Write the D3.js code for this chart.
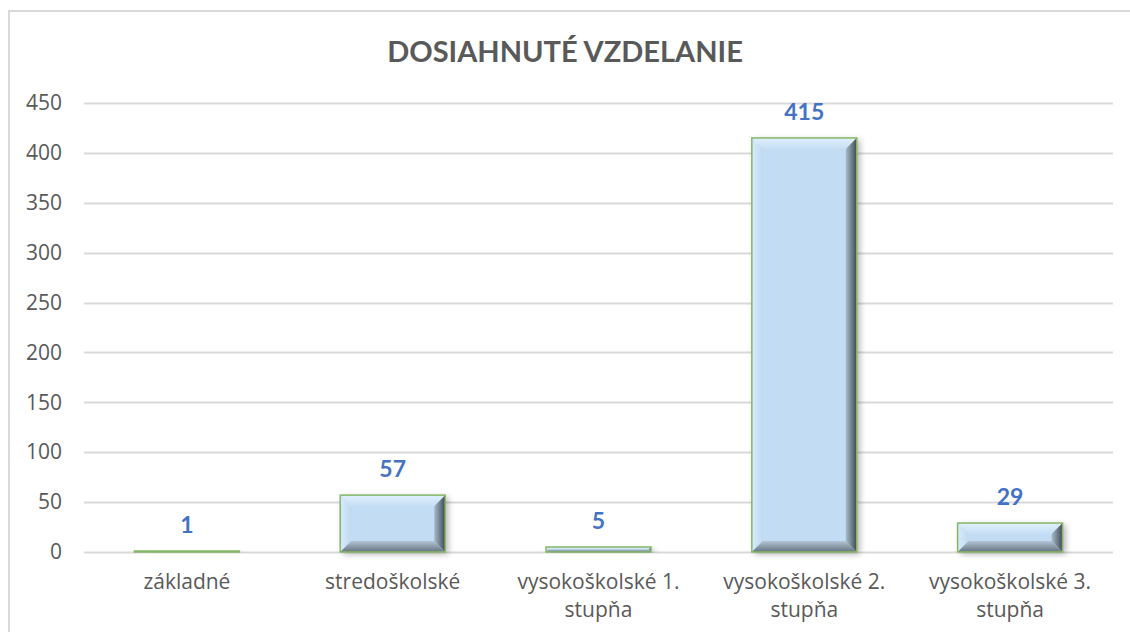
<!DOCTYPE html>
<html>
<head>
<meta charset="utf-8">
<script src="https://cdn.jsdelivr.net/npm/d3@7"></script>
<style>
  body { margin: 0; background: #fff; }
  text { font-family: "Open Sans", sans-serif; }
</style>
</head>
<body>
<div id="chart"></div>
<script>
// chart data
var categories = ["základné", "stredoškolské", "vysokoškolské 1. stupňa", "vysokoškolské 2. stupňa", "vysokoškolské 3. stupňa"];
var categoryLines = [["základné"], ["stredoškolské"], ["vysokoškolské 1.", "stupňa"], ["vysokoškolské 2.", "stupňa"], ["vysokoškolské 3.", "stupňa"]];
var values = [1, 57, 5, 415, 29];
var yTicks = [0, 50, 100, 150, 200, 250, 300, 350, 400, 450];

var width = 1130, height = 632;
var margin = {left: 84, right: 17, top: 103, bottom: 80};

var svg = d3.select("#chart").append("svg")
  .attr("width", width)
  .attr("height", height);

var defs = svg.append("defs");
var shadow = defs.append("filter").attr("id", "shadow")
  .attr("x", "-20%").attr("y", "-20%").attr("width", "140%").attr("height", "140%");
shadow.append("feDropShadow")
  .attr("dx", 3).attr("dy", 2).attr("stdDeviation", 3)
  .attr("flood-color", "#000").attr("flood-opacity", 0.3);

// bevel gradients
function grad(id, x2, y2, stops){
  var lg = defs.append("linearGradient").attr("id", id)
    .attr("x1", 0).attr("y1", 0).attr("x2", x2).attr("y2", y2);
  stops.forEach(function(s){
    lg.append("stop").attr("offset", s[0]).attr("stop-color", s[1]);
  });
}
grad("bevRight", 1, 0, [["0%", "#a8bccd"], ["100%", "#3f4a52"]]);
grad("bevBottom", 0, 1, [["0%", "#b2c5d6"], ["100%", "#66737e"]]);
grad("bevTop", 0, 1, [["0%", "#e0f0ff"], ["100%", "#c6def4"]]);
grad("bevLeft", 1, 0, [["0%", "#d8ebfc"], ["100%", "#c0d9f0"]]);

// outer frame
svg.append("rect")
  .attr("x", 9).attr("y", 11)
  .attr("width", width + 20).attr("height", height + 20)
  .attr("fill", "none").attr("stroke", "#d9d9d9").attr("stroke-width", 2);

var x = d3.scaleBand()
  .domain(categories)
  .range([margin.left, width - margin.right])
  .paddingInner(0.49).paddingOuter(0.245);

var y = d3.scaleLinear()
  .domain([0, 450])
  .range([height - margin.bottom, margin.top]);

// title
svg.append("text")
  .attr("x", 565).attr("y", 62)
  .attr("text-anchor", "middle")
  .attr("font-size", 29).attr("font-weight", "bold")
  .attr("fill", "#595959")
  .style("font-family", "Lato, sans-serif")
  .text("DOSIAHNUTÉ VZDELANIE");

// gridlines
svg.append("g").selectAll("line")
  .data(yTicks)
  .enter().append("line")
  .attr("x1", margin.left).attr("x2", width - margin.right)
  .attr("y1", function(d){ return Math.round(y(d)) + 0.5; })
  .attr("y2", function(d){ return Math.round(y(d)) + 0.5; })
  .attr("stroke", "#d9d9d9").attr("stroke-width", 2);

// y axis labels
var yAxis = d3.axisLeft(y).tickValues(yTicks).tickSize(0).tickPadding(0);
var gy = svg.append("g").attr("transform", "translate(62,0)").call(yAxis);
gy.select(".domain").remove();
gy.selectAll("text")
  .attr("font-size", 21).attr("fill", "#595959")
  .style("font-family", "'Open Sans', sans-serif");

// bars with bevel
var bars = svg.append("g").selectAll("g.bar")
  .data(values)
  .enter().append("g")
  .attr("class", "bar");

bars.each(function(v, i){
  var g = d3.select(this);
  var x0 = x(categories[i]), w = x.bandwidth();
  var y0 = y(v), y1 = y(0), h = y1 - y0;
  var b = Math.min(11, h / 2);

  g.append("rect")
    .attr("x", x0).attr("y", y0).attr("width", w).attr("height", h)
    .attr("fill", "#c2dcf4")
    .attr("filter", "url(#shadow)");

  g.append("polygon")
    .attr("points", [[x0, y0], [x0 + w, y0], [x0 + w - b, y0 + b], [x0 + b, y0 + b]].join(" "))
    .attr("fill", "url(#bevTop)");
  g.append("polygon")
    .attr("points", [[x0, y0], [x0 + b, y0 + b], [x0 + b, y1 - b], [x0, y1]].join(" "))
    .attr("fill", "url(#bevLeft)");
  g.append("polygon")
    .attr("points", [[x0 + w, y0], [x0 + w, y1], [x0 + w - b, y1 - b], [x0 + w - b, y0 + b]].join(" "))
    .attr("fill", "url(#bevRight)");
  g.append("polygon")
    .attr("points", [[x0, y1], [x0 + w, y1], [x0 + w - b, y1 - b], [x0 + b, y1 - b]].join(" "))
    .attr("fill", "url(#bevBottom)");

  g.append("rect")
    .attr("x", x0).attr("y", y0).attr("width", w).attr("height", h)
    .attr("fill", "none")
    .attr("stroke", "#86b767").attr("stroke-width", 1.5);
});

// data labels
svg.append("g").selectAll("text")
  .data(values)
  .enter().append("text")
  .attr("x", function(d, i){ return x(categories[i]) + x.bandwidth() / 2; })
  .attr("y", function(d){ return y(d) - 18; })
  .attr("text-anchor", "middle")
  .attr("font-size", 23).attr("font-weight", "bold")
  .attr("fill", "#4472c4")
  .style("font-family", "Lato, sans-serif")
  .text(function(d){ return d; });

// category labels
var cats = svg.append("g").selectAll("text")
  .data(categoryLines)
  .enter().append("text")
  .attr("x", function(d, i){ return x(categories[i]) + x.bandwidth() / 2; })
  .attr("y", 589)
  .attr("text-anchor", "middle")
  .attr("font-size", 21).attr("fill", "#595959");

cats.selectAll("tspan")
  .data(function(d){ return d; })
  .enter().append("tspan")
  .attr("x", function(){ return d3.select(this.parentNode).attr("x"); })
  .attr("dy", function(d, j){ return j === 0 ? 0 : 28; })
  .text(function(d){ return d; });
</script>
</body>
</html>
